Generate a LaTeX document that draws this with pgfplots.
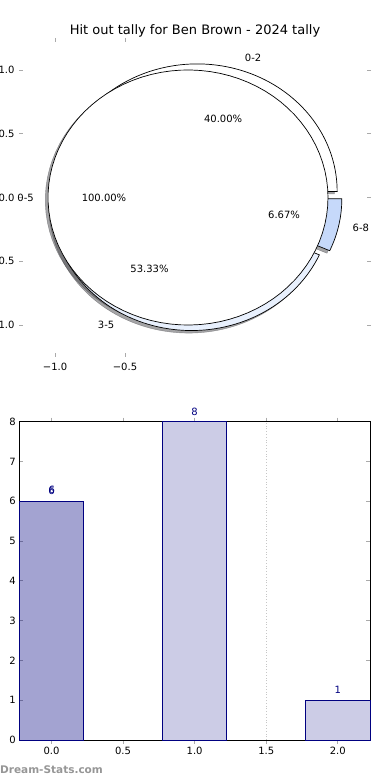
\documentclass[border=0pt]{standalone}
\usepackage{pgfplots}
\pgfplotsset{compat=1.18}
\usepackage{fontspec}
\setmainfont{DejaVu Sans}
\definecolor{navyc}{RGB}{0,0,128}
\definecolor{tickgray}{RGB}{170,170,170}
\definecolor{w68}{RGB}{198,217,250}
\definecolor{w35}{RGB}{232,240,253}
\definecolor{shad}{RGB}{74,74,78}
\definecolor{wm}{RGB}{150,150,150}
\begin{document}
\begin{tikzpicture}[x=1pt,y=1pt]
% ---------------- pie ----------------
\begin{axis}[at={(21pt,425pt)}, anchor=south west, scale only axis,
  width=348pt, height=315pt,
  xmin=-1.243, xmax=1.243, ymin=-1.235, ymax=1.235,
  axis line style={draw=none},
  xtick={-1,-0.5}, xticklabels={−1.0,−0.5},
  ytick={-1,-0.5,0,0.5,1}, yticklabels={−1.0,−0.5,0.0,0.5,1.0},
  tick style={tickgray, line width=0.8pt}, tick align=center, major tick length=4pt,
  ticklabel style={font=\fontsize{10}{12}\selectfont},
  xticklabel style={yshift=-3pt}, yticklabel style={xshift=-1pt},
  clip=false, samples=90, variable=\t]
% shadows
\addplot[fill=shad, draw=shad, fill opacity=0.5, draw opacity=0.5, domain=0:144]
  ({-0.0045+cos(t)},{0.0276+sin(t)}) -- (axis cs:-0.0045,0.0276) -- cycle;
\addplot[fill=shad, draw=shad, fill opacity=0.5, draw opacity=0.5, domain=144:336]
  ({-0.045+cos(t)},{-0.0633+sin(t)}) -- (axis cs:-0.045,-0.0633) -- cycle;
\addplot[fill=shad, draw=shad, fill opacity=0.5, draw opacity=0.5, domain=336:360]
  ({0.0289+cos(t)},{-0.0304+sin(t)}) -- (axis cs:0.0289,-0.0304) -- cycle;
\addplot[fill=shad, draw=shad, fill opacity=0.5, draw opacity=0.5, domain=0:360]
  ({-0.07+cos(t)},{-0.02+sin(t)}) -- cycle;
% wedges
\addplot[fill=white, draw=black, line width=0.7pt, domain=0:144]
  ({0.0155+cos(t)},{0.0476+sin(t)}) -- (axis cs:0.0155,0.0476) -- cycle;
\addplot[fill=w35, draw=black, line width=0.7pt, domain=144:336]
  ({-0.025+cos(t)},{-0.0433+sin(t)}) -- (axis cs:-0.025,-0.0433) -- cycle;
\addplot[fill=w68, draw=black, line width=0.7pt, domain=336:360]
  ({0.0489+cos(t)},{-0.0104+sin(t)}) -- (axis cs:0.0489,-0.0104) -- cycle;
\addplot[fill=white, draw=black, line width=0.7pt, domain=0:360]
  ({-0.05+cos(t)},{sin(t)}) -- cycle;
% labels
\begin{scope}[every node/.style={inner sep=0pt, font=\fontsize{10}{12}\selectfont}]
\node[anchor=west] at (axis cs:0.355,1.094) {0-2};
\node at (axis cs:0.201,0.618) {40.00\%};
\node[anchor=east] at (axis cs:-0.575,-0.996) {3-5};
\node at (axis cs:-0.325,-0.563) {53.33\%};
\node[anchor=west] at (axis cs:1.125,-0.239) {6-8};
\node at (axis cs:0.636,-0.135) {6.67\%};
\node[anchor=east] at (axis cs:-1.15,0) {0-5};
\node at (axis cs:-0.65,0) {100.00\%};
\end{scope}
\end{axis}
\node[anchor=base, font=\fontsize{13}{15}\selectfont] at (195,745.5) {Hit out tally for Ben Brown - 2024 tally};
% ---------------- bars ----------------
\begin{axis}[at={(19.3pt,40pt)}, anchor=south west, scale only axis,
  width=350.7pt, height=318.3pt,
  xmin=-0.225, xmax=2.225, ymin=0, ymax=8,
  /pgf/number format/assume math mode=true,
  xtick={0,0.5,1,1.5,2}, xticklabels={0.0,0.5,1.0,1.5,2.0},
  ytick={0,1,2,3,4,5,6,7,8}, yticklabels={0,1,2,3,4,5,6,7,8},
  tick style={tickgray, line width=0.8pt}, tick align=inside, major tick length=4pt,
  axis line style={black, line width=0.8pt},
  ticklabel style={font=\fontsize{10}{12}\selectfont},
  ybar, bar width=0.45, bar shift=0pt, clip=false]
\addplot[sharp plot, gray!45, dotted, line width=0.8pt, forget plot] coordinates {(1.5,0) (1.5,8)};
\addplot[fill=navyc, fill opacity=0.2, draw=navyc, draw opacity=1, line width=0.8pt,
  nodes near coords,
  every node near coord/.append style={navyc, text opacity=1, font=\fontsize{10}{12}\selectfont, yshift=2.5pt}]
  coordinates {(0,6) (1,8) (2,1)};
\addplot[fill=navyc, fill opacity=0.2, draw=navyc, draw opacity=1, line width=0.8pt,
  nodes near coords,
  every node near coord/.append style={navyc, text opacity=1, font=\fontsize{10}{12}\selectfont, yshift=4pt, xshift=0.4pt}]
  coordinates {(0,6)};
\end{axis}
\node[anchor=west, inner sep=0pt, text=wm, font=\bfseries\fontsize{10.5}{12}\selectfont] at (0,10) {Dream-Stats.com};
\pgfresetboundingbox
\useasboundingbox (0,0) rectangle (390,780);
\end{tikzpicture}
\end{document}
